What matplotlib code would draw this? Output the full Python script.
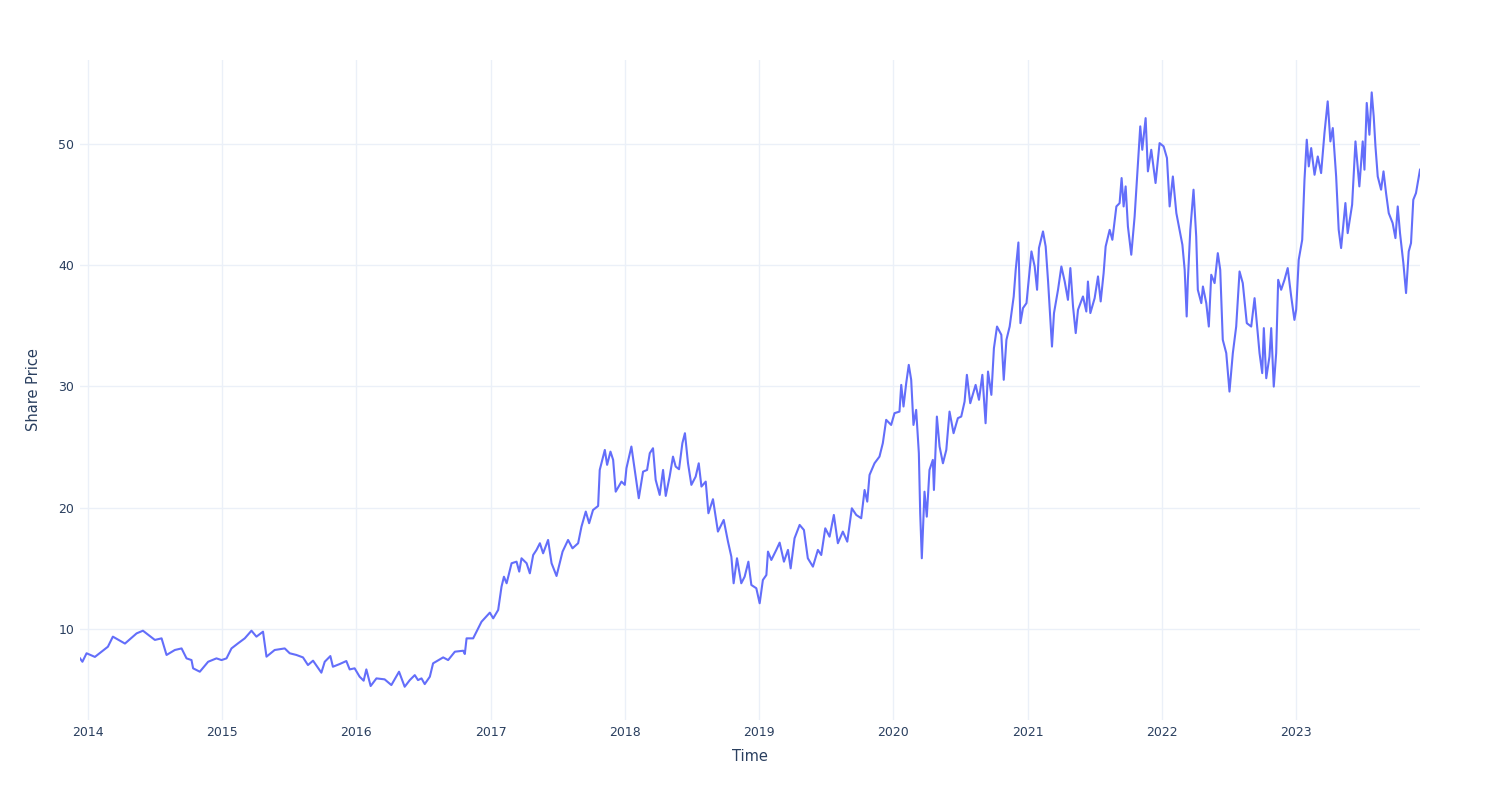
import matplotlib
matplotlib.use("Agg")
import matplotlib.pyplot as plt
import matplotlib.dates as mdates
import numpy as np
import pandas as pd

# time as decimal years
t_year = [
    2013.941, 2013.959, 2013.990, 2014.052, 2014.149, 2014.186, 2014.276, 2014.363,
    2014.410, 2014.499, 2014.549, 2014.586, 2014.648, 2014.698, 2014.735, 2014.772,
    2014.784, 2014.834, 2014.896, 2014.958, 2014.996, 2015.033, 2015.070, 2015.119,
    2015.169, 2015.219, 2015.256, 2015.305, 2015.331, 2015.392, 2015.467, 2015.504,
    2015.554, 2015.603, 2015.640, 2015.678, 2015.740, 2015.765, 2015.807, 2015.826,
    2015.876, 2015.926, 2015.951, 2015.988, 2016.025, 2016.055, 2016.075, 2016.107,
    2016.150, 2016.211, 2016.261, 2016.318, 2016.360, 2016.398, 2016.435, 2016.459,
    2016.485, 2016.509, 2016.547, 2016.571, 2016.646, 2016.683, 2016.733, 2016.795,
    2016.807, 2016.820, 2016.869, 2016.931, 2016.993, 2017.018, 2017.055, 2017.080,
    2017.098, 2017.118, 2017.155, 2017.192, 2017.212, 2017.229, 2017.267, 2017.291,
    2017.316, 2017.341, 2017.366, 2017.390, 2017.427, 2017.453, 2017.490, 2017.535,
    2017.576, 2017.609, 2017.651, 2017.676, 2017.708, 2017.733, 2017.762, 2017.800,
    2017.812, 2017.850, 2017.867, 2017.892, 2017.912, 2017.931, 2017.974, 2017.999,
    2018.011, 2018.048, 2018.073, 2018.103, 2018.135, 2018.165, 2018.185, 2018.209,
    2018.229, 2018.259, 2018.284, 2018.304, 2018.333, 2018.358, 2018.378, 2018.403,
    2018.428, 2018.447, 2018.470, 2018.495, 2018.527, 2018.550, 2018.570, 2018.602,
    2018.622, 2018.656, 2018.693, 2018.736, 2018.768, 2018.793, 2018.810, 2018.835,
    2018.867, 2018.892, 2018.920, 2018.942, 2018.979, 2019.004, 2019.028, 2019.054,
    2019.066, 2019.091, 2019.128, 2019.153, 2019.185, 2019.215, 2019.235, 2019.264,
    2019.302, 2019.334, 2019.363, 2019.401, 2019.438, 2019.463, 2019.493, 2019.525,
    2019.557, 2019.587, 2019.624, 2019.657, 2019.691, 2019.724, 2019.761, 2019.786,
    2019.806, 2019.823, 2019.860, 2019.897, 2019.922, 2019.947, 2019.984, 2020.009,
    2020.046, 2020.059, 2020.076, 2020.096, 2020.115, 2020.133, 2020.150, 2020.170,
    2020.190, 2020.200, 2020.212, 2020.232, 2020.249, 2020.269, 2020.294, 2020.302,
    2020.324, 2020.344, 2020.369, 2020.394, 2020.418, 2020.448, 2020.480, 2020.505,
    2020.530, 2020.547, 2020.572, 2020.612, 2020.637, 2020.662, 2020.686, 2020.704,
    2020.729, 2020.748, 2020.771, 2020.803, 2020.821, 2020.841, 2020.865, 2020.895,
    2020.910, 2020.930, 2020.945, 2020.964, 2020.990, 2021.002, 2021.027, 2021.051,
    2021.069, 2021.083, 2021.113, 2021.133, 2021.151, 2021.168, 2021.180, 2021.195,
    2021.225, 2021.250, 2021.275, 2021.299, 2021.317, 2021.337, 2021.357, 2021.374,
    2021.411, 2021.436, 2021.448, 2021.466, 2021.498, 2021.523, 2021.543, 2021.565,
    2021.580, 2021.610, 2021.630, 2021.660, 2021.684, 2021.699, 2021.714, 2021.729,
    2021.746, 2021.771, 2021.796, 2021.821, 2021.838, 2021.853, 2021.878, 2021.895,
    2021.920, 2021.952, 2021.982, 2022.012, 2022.037, 2022.057, 2022.081, 2022.107,
    2022.152, 2022.169, 2022.184, 2022.193, 2022.211, 2022.235, 2022.255, 2022.267,
    2022.293, 2022.305, 2022.330, 2022.349, 2022.367, 2022.392, 2022.416, 2022.434,
    2022.453, 2022.479, 2022.503, 2022.528, 2022.553, 2022.578, 2022.602, 2022.632,
    2022.665, 2022.690, 2022.707, 2022.727, 2022.747, 2022.759, 2022.777, 2022.801,
    2022.814, 2022.833, 2022.851, 2022.866, 2022.888, 2022.913, 2022.937, 2022.963,
    2022.987, 2023.000, 2023.019, 2023.045, 2023.062, 2023.079, 2023.094, 2023.112,
    2023.137, 2023.161, 2023.186, 2023.211, 2023.235, 2023.255, 2023.273, 2023.298,
    2023.317, 2023.335, 2023.367, 2023.384, 2023.417, 2023.442, 2023.471, 2023.496,
    2023.509, 2023.526, 2023.546, 2023.563, 2023.578, 2023.591, 2023.608, 2023.633,
    2023.651, 2023.670, 2023.690, 2023.719, 2023.740, 2023.757, 2023.774, 2023.799,
    2023.819, 2023.839, 2023.856, 2023.873, 2023.893, 2023.923,
]

share_price = [
    7.58, 7.30, 8.00, 7.70, 8.54, 9.37, 8.80, 9.64,
    9.86, 9.10, 9.23, 7.86, 8.27, 8.40, 7.58, 7.44,
    6.76, 6.48, 7.30, 7.58, 7.44, 7.58, 8.40, 8.82,
    9.23, 9.86, 9.37, 9.78, 7.72, 8.27, 8.40, 8.00,
    7.86, 7.66, 7.03, 7.39, 6.40, 7.30, 7.77, 6.89,
    7.11, 7.36, 6.67, 6.76, 6.07, 5.74, 6.67, 5.30,
    5.93, 5.85, 5.38, 6.48, 5.24, 5.79, 6.20, 5.79,
    5.93, 5.46, 6.07, 7.17, 7.66, 7.44, 8.13, 8.21,
    7.94, 9.23, 9.23, 10.60, 11.35, 10.88, 11.57, 13.49,
    14.31, 13.77, 15.42, 15.55, 14.73, 15.83, 15.42, 14.59,
    16.10, 16.52, 17.07, 16.24, 17.34, 15.42, 14.37, 16.38,
    17.34, 16.65, 17.07, 18.44, 19.68, 18.72, 19.81, 20.14,
    23.11, 24.76, 23.53, 24.62, 23.94, 21.32, 22.15, 21.88,
    23.25, 25.04, 23.11, 20.78, 22.97, 23.11, 24.49, 24.90,
    22.29, 21.05, 23.11, 20.97, 22.56, 24.21, 23.39, 23.17,
    25.32, 26.14, 23.66, 21.88, 22.56, 23.66, 21.74, 22.15,
    19.54, 20.70, 18.03, 18.99, 17.20, 15.96, 13.77, 15.83,
    13.77, 14.31, 15.55, 13.63, 13.36, 12.12, 14.04, 14.45,
    16.38, 15.69, 16.52, 17.12, 15.55, 16.52, 15.00, 17.48,
    18.58, 18.16, 15.83, 15.14, 16.52, 16.10, 18.30, 17.61,
    19.40, 17.07, 18.03, 17.20, 19.95, 19.40, 19.13, 21.46,
    20.50, 22.70, 23.66, 24.21, 25.32, 27.24, 26.82, 27.79,
    27.92, 30.12, 28.34, 30.26, 31.77, 30.54, 26.82, 28.06,
    24.49, 19.54, 15.83, 21.32, 19.26, 23.11, 23.94, 21.46,
    27.51, 25.04, 23.66, 24.76, 27.92, 26.14, 27.38, 27.51,
    28.75, 30.95, 28.61, 30.12, 28.89, 30.95, 26.96, 31.22,
    29.30, 33.15, 34.93, 34.25, 30.54, 33.84, 34.93, 37.41,
    39.61, 41.86, 35.21, 36.45, 36.86, 38.23, 41.12, 39.88,
    37.96, 41.40, 42.77, 41.53, 38.64, 35.48, 33.28, 36.04,
    37.96, 39.88, 38.64, 37.13, 39.75, 36.58, 34.39, 36.31,
    37.41, 36.17, 38.64, 36.04, 37.27, 39.06, 37.00, 39.34,
    41.53, 42.90, 42.08, 44.83, 45.10, 47.17, 44.83, 46.48,
    43.18, 40.85, 44.00, 48.41, 51.43, 49.50, 52.11, 47.72,
    49.50, 46.76, 50.05, 49.78, 48.82, 44.83, 47.30, 44.28,
    41.67, 39.61, 35.76, 38.78, 42.91, 46.21, 42.35, 37.96,
    36.86, 38.23, 36.86, 34.93, 39.20, 38.51, 40.98, 39.61,
    33.84, 32.74, 29.57, 32.74, 34.93, 39.47, 38.51, 35.21,
    34.93, 37.27, 35.21, 32.74, 31.09, 34.80, 30.67, 32.46,
    34.80, 29.98, 32.74, 38.78, 37.96, 38.78, 39.75, 37.41,
    35.48, 36.31, 40.43, 42.08, 47.03, 50.33, 48.13, 49.64,
    47.44, 48.95, 47.58, 50.88, 53.49, 50.19, 51.29, 47.30,
    42.91, 41.40, 45.11, 42.63, 44.97, 50.19, 46.48, 50.19,
    47.86, 53.36, 50.74, 54.23, 52.25, 49.78, 47.30, 46.21,
    47.72, 45.93, 44.28, 43.46, 42.22, 44.83, 42.63, 40.16,
    37.69, 41.12, 41.81, 45.38, 45.93, 47.86,
]

year_ticks = list(range(2014, 2024))


def to_datetime(yr):
    y = int(np.floor(yr))
    start = pd.Timestamp(year=y, month=1, day=1)
    days = (pd.Timestamp(year=y + 1, month=1, day=1) - start).days
    return start + pd.Timedelta(days=(yr - y) * days)


dates = [to_datetime(v) for v in t_year]

plt.rcParams["font.family"] = "DejaVu Sans"

fig = plt.figure(figsize=(15, 8), dpi=100)
ax = fig.add_axes([80 / 1500, 80 / 800, 1340 / 1500, 660 / 800])

ax.plot(dates, share_price, color="#636EFA", linewidth=1.5, zorder=3)

ax.set_xlim(dates[0], dates[-1])
ax.set_ylim(2.5, 56.9)

ax.set_xticks([pd.Timestamp(year=y, month=1, day=1) for y in year_ticks])
ax.xaxis.set_major_formatter(mdates.DateFormatter("%Y"))
ax.set_yticks([10, 20, 30, 40, 50])

ax.grid(True, color="#EBF0F8", linewidth=1, zorder=0)
ax.set_axisbelow(True)
for s in ax.spines.values():
    s.set_visible(False)
ax.tick_params(length=0, labelsize=9, labelcolor="#2a3f5f", pad=4)

ax.set_xlabel("Time", fontsize=10.5, color="#2a3f5f")
ax.set_ylabel("Share Price", fontsize=10.5, color="#2a3f5f")
ax.xaxis.set_label_coords(0.5, -0.044)
ax.yaxis.set_label_coords(-0.029, 0.5)

fig.savefig("out.png", dpi=100, facecolor="white")
